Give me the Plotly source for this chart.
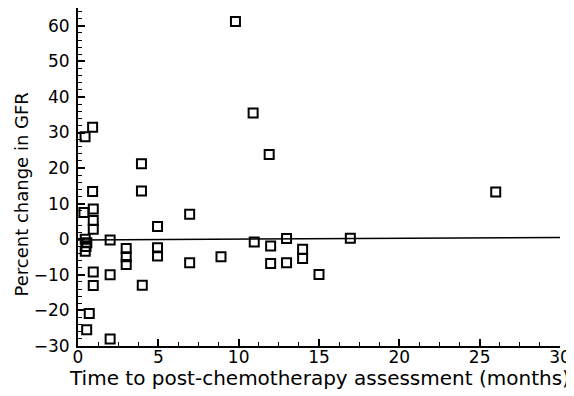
import plotly.graph_objects as go

# Data
months = [0.91, 0.44, 0.91, 0.37, 0.95, 0.95, 0.95, 0.45, 0.55, 0.5, 0.45, 0.95, 0.95, 0.7, 0.54,
          2.0, 2.0, 2.0, 3.0, 3.0, 3.0, 3.95, 3.95, 4.0, 4.95, 4.95, 4.95, 6.95, 6.95, 8.9,
          9.8, 10.9, 10.97, 11.9, 11.99, 11.99, 12.98, 12.98, 13.98, 13.98, 15.0, 16.95, 26.0]
gfr_change = [31.5, 28.8, 13.4, 7.5, 8.5, 5.3, 2.8, 0.0, -1.0, -2.0, -3.4, -9.2, -13.0, -20.9, -25.4,
              -0.2, -10.0, -28.0, -2.6, -4.9, -7.1, 21.2, 13.6, -12.9, 3.6, -2.4, -4.7, 7.0, -6.6, -4.9,
              61.2, 35.5, -0.8, 23.8, -1.9, -6.8, 0.2, -6.6, -2.8, -5.4, -9.9, 0.3, 13.3]

# Fitted line (end points)
line_x = [0, 30]
line_y = [-0.2, 0.5]

x_ticks = [0, 5, 10, 15, 20, 25, 30]
y_ticks = [-30, -20, -10, 0, 10, 20, 30, 40, 50, 60]

x_title = "Time to post-chemotherapy assessment (months)"
y_title = "Percent change in GFR"

fig = go.Figure()
fig.add_trace(go.Scatter(x=line_x, y=line_y, mode="lines",
                         line=dict(color="black", width=1.5), showlegend=False))
fig.add_trace(go.Scatter(x=months, y=gfr_change, mode="markers",
                         marker=dict(symbol="square-open", size=9, color="black",
                                     line=dict(color="black", width=2)),
                         showlegend=False, cliponaxis=False))

tick_font = dict(family="DejaVu Sans", size=17, color="black")

# the page body adds an 8px offset, so the figure is sized to fit inside the window
fig.update_layout(
    template="none",
    width=566, height=388,
    margin=dict(l=70, r=14, t=0, b=50, autoexpand=False),
    paper_bgcolor="white", plot_bgcolor="white",
    font=dict(family="DejaVu Sans", size=17, color="black"),
    xaxis=dict(range=[0, 30], tickvals=x_ticks, ticks="inside", ticklen=7, tickwidth=1.5,
               tickcolor="black", showline=True, linecolor="black", linewidth=2,
               showgrid=False, zeroline=False, tickfont=tick_font, automargin=False,
               ticklabelstandoff=-5,
               minor=dict(dtick=1.25, tick0=0, ticks="inside", ticklen=4, tickcolor="black",
                          tickwidth=1.2, showgrid=False)),
    yaxis=dict(range=[-30, 65], tickvals=y_ticks, ticks="inside", ticklen=7, tickwidth=1.5,
               tickcolor="black", showline=True, linecolor="black", linewidth=2,
               showgrid=False, zeroline=False, tickfont=tick_font, automargin=False,
               ticklabelstandoff=3,
               minor=dict(dtick=2, tick0=0, ticks="inside", ticklen=4, tickcolor="black",
                          tickwidth=1.2, showgrid=False)),
    annotations=[
        dict(text=x_title, xref="paper", yref="paper", x=0.502, y=-0.0947,
             xanchor="center", yanchor="middle", showarrow=False,
             font=dict(family="DejaVu Sans", size=20, color="black")),
        dict(text=y_title, xref="paper", yref="paper", x=-0.117, y=0.447,
             xanchor="center", yanchor="middle", showarrow=False, textangle=-90,
             font=dict(family="DejaVu Sans", size=18, color="black")),
    ],
)

fig.write_html("out.html")
